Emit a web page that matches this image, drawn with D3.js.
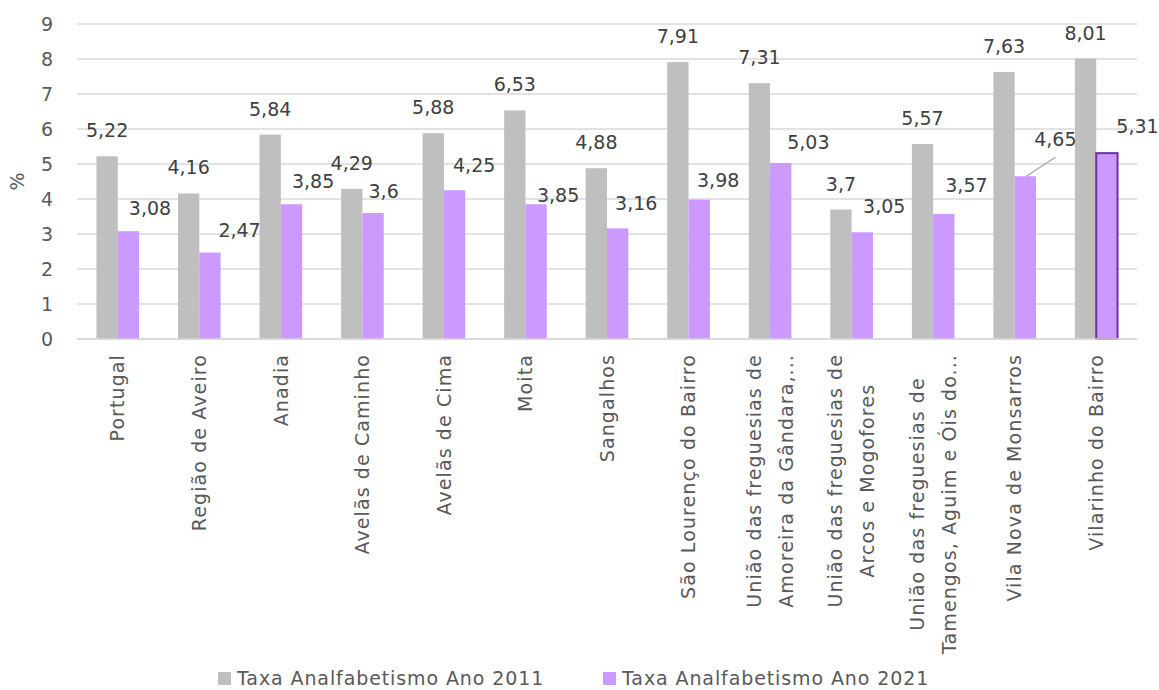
<!DOCTYPE html>
<html>
<head>
<meta charset="utf-8">
<script src="https://cdn.jsdelivr.net/npm/d3@7"></script>
<style>
  html, body { margin: 0; padding: 0; background: #ffffff; }
  svg { display: block; }
  text { font-family: "DejaVu Sans", "Open Sans", sans-serif; }
</style>
</head>
<body>
<svg id="chart" width="1159" height="690"></svg>
<script>
// ---- data ----
const categories = [
  "Portugal",
  "Região de Aveiro",
  "Anadia",
  "Avelãs de Caminho",
  "Avelãs de Cima",
  "Moita",
  "Sangalhos",
  "São Lourenço do Bairro",
  "União das freguesias de\nAmoreira da Gândara,...",
  "União das freguesias de\nArcos e Mogofores",
  "União das freguesias de\nTamengos, Aguim e Óis do...",
  "Vila Nova de Monsarros",
  "Vilarinho do Bairro"
];
const seriesNames = ["Taxa Analfabetismo Ano 2011", "Taxa Analfabetismo Ano 2021"];
const values2011 = [5.22, 4.16, 5.84, 4.29, 5.88, 6.53, 4.88, 7.91, 7.31, 3.70, 5.57, 7.63, 8.01];
const values2021 = [3.08, 2.47, 3.85, 3.60, 4.25, 3.85, 3.16, 3.98, 5.03, 3.05, 3.57, 4.65, 5.31];
const yTicks = [0, 1, 2, 3, 4, 5, 6, 7, 8, 9];
const yAxisTitle = "%";

// label nudges for the 2021 data labels (manually placed in the original)
const label2021Dx = [21.6, 29.6, 21.6, 10.6, 19.6, 22, 18.6, 19, 27.6, 22, 22.6, 30, 30.6];
const label2021Dy = [3, 3, 3, 4, 1, 17, 1, 6, 5, 0, -3, -11, -1];
const leaderIndex = 11;
const highlightIndex = 12;

// ---- layout ----
const colors = ["#BFBFBF", "#CC99FF"];
const svg = d3.select("#chart");
const plotL = 77, plotR = 1137, plotT = 24, plotB = 339;

const x0 = d3.scaleBand().domain(d3.range(categories.length)).range([plotL, plotR]).paddingInner(0).paddingOuter(0);
const x1 = d3.scaleBand().domain([0, 1]).range([0, x0.bandwidth()]).paddingInner(0).paddingOuter(0.913);
const y = d3.scaleLinear().domain([0, 9]).range([plotB, plotT]);

const fmt = v => String(+v.toFixed(2)).replace(".", ",");

// gridlines
svg.append("g")
  .selectAll("line").data(yTicks).join("line")
  .attr("x1", plotL).attr("x2", plotR)
  .attr("y1", d => y(d)).attr("y2", d => y(d))
  .attr("stroke", "#D9D9D9").attr("stroke-width", 1.3);

// y axis labels
const yAxis = d3.axisLeft(y).tickValues(yTicks).tickSize(0).tickPadding(0).tickFormat(d3.format("d"));
const gy = svg.append("g").attr("transform", `translate(${plotL - 24},0)`).call(yAxis);
gy.select(".domain").remove();
gy.selectAll("text").attr("fill", "#595959").attr("font-size", 19).attr("dy", "0.36em")
  .style("font-family", "'DejaVu Sans', sans-serif");

// y title
svg.append("text")
  .attr("transform", `translate(24,${(plotT + plotB) / 2}) rotate(-90)`)
  .attr("text-anchor", "middle")
  .attr("fill", "#595959").attr("font-size", 19)
  .text(yAxisTitle);

// bars
const series = [values2011, values2021];
const gBars = svg.append("g");
series.forEach((vals, s) => {
  gBars.selectAll(`rect.s${s}`).data(vals).join("rect")
    .attr("class", `s${s}`)
    .attr("x", (d, i) => x0(i) + x1(s))
    .attr("width", x1.bandwidth())
    .attr("y", d => y(d))
    .attr("height", d => y(0) - y(d))
    .attr("fill", colors[s])
    .attr("stroke", (d, i) => (s === 1 && i === highlightIndex) ? "#7030A0" : "none")
    .attr("stroke-width", 2);
});

// bottom axis line
svg.append("line")
  .attr("x1", plotL).attr("x2", plotR).attr("y1", y(0)).attr("y2", y(0))
  .attr("stroke", "#D9D9D9").attr("stroke-width", 1.5);

// data labels 2011
svg.append("g").selectAll("text").data(values2011).join("text")
  .attr("x", (d, i) => x0(i) + x1(0) + x1.bandwidth() / 2)
  .attr("y", d => y(d) - 19)
  .attr("text-anchor", "middle")
  .attr("fill", "#404040").attr("font-size", 19)
  .text(d => fmt(d));

// data labels 2021
const lblX = (d, i) => x0(i) + x1(1) + x1.bandwidth() / 2 + label2021Dx[i];
const lblY = (d, i) => y(d) - 19 + label2021Dy[i];
svg.append("g").selectAll("text").data(values2021).join("text")
  .attr("x", lblX)
  .attr("y", lblY)
  .attr("text-anchor", "middle")
  .attr("fill", "#404040").attr("font-size", 19)
  .text(d => fmt(d));

// leader line
{
  const i = leaderIndex, d = values2021[i];
  svg.append("line")
    .attr("x1", x0(i) + x1(1) + x1.bandwidth() / 2 + 1)
    .attr("y1", y(d))
    .attr("x2", lblX(d, i))
    .attr("y2", lblY(d, i) + 11)
    .attr("stroke", "#A6A6A6").attr("stroke-width", 1.3);
}

// category labels (rotated)
const labelTop = 354;
const gx = svg.append("g");
categories.forEach((c, i) => {
  const lines = c.split("\n");
  const cx = x0(i) + x0.bandwidth() / 2;
  const g = gx.append("g");
  const texts = lines.map((ln, k) => {
    const off = (k - (lines.length - 1) / 2) * 32;
    return g.append("text")
      .attr("fill", "#595959").attr("font-size", 19)
      .attr("letter-spacing", 1.1)
      .attr("text-anchor", "middle")
      .attr("dy", "0.35em")
      .attr("data-off", off)
      .text(ln);
  });
  const maxLen = d3.max(texts, t => t.node().getComputedTextLength());
  texts.forEach(t => {
    const off = +t.attr("data-off");
    t.attr("transform", `translate(${cx + off},${labelTop + maxLen / 2}) rotate(-90)`);
  });
});

// legend
const legend = svg.append("g");
const legendItems = [{x: 218, s: 0}, {x: 603, s: 1}];
legendItems.forEach(it => {
  legend.append("rect").attr("x", it.x).attr("y", 672).attr("width", 13).attr("height", 13).attr("fill", colors[it.s]);
  legend.append("text").attr("x", it.x + 19).attr("y", 685)
    .attr("fill", "#595959").attr("font-size", 19)
    .attr("letter-spacing", 0.9)
    .text(seriesNames[it.s]);
});
</script>
</body>
</html>
